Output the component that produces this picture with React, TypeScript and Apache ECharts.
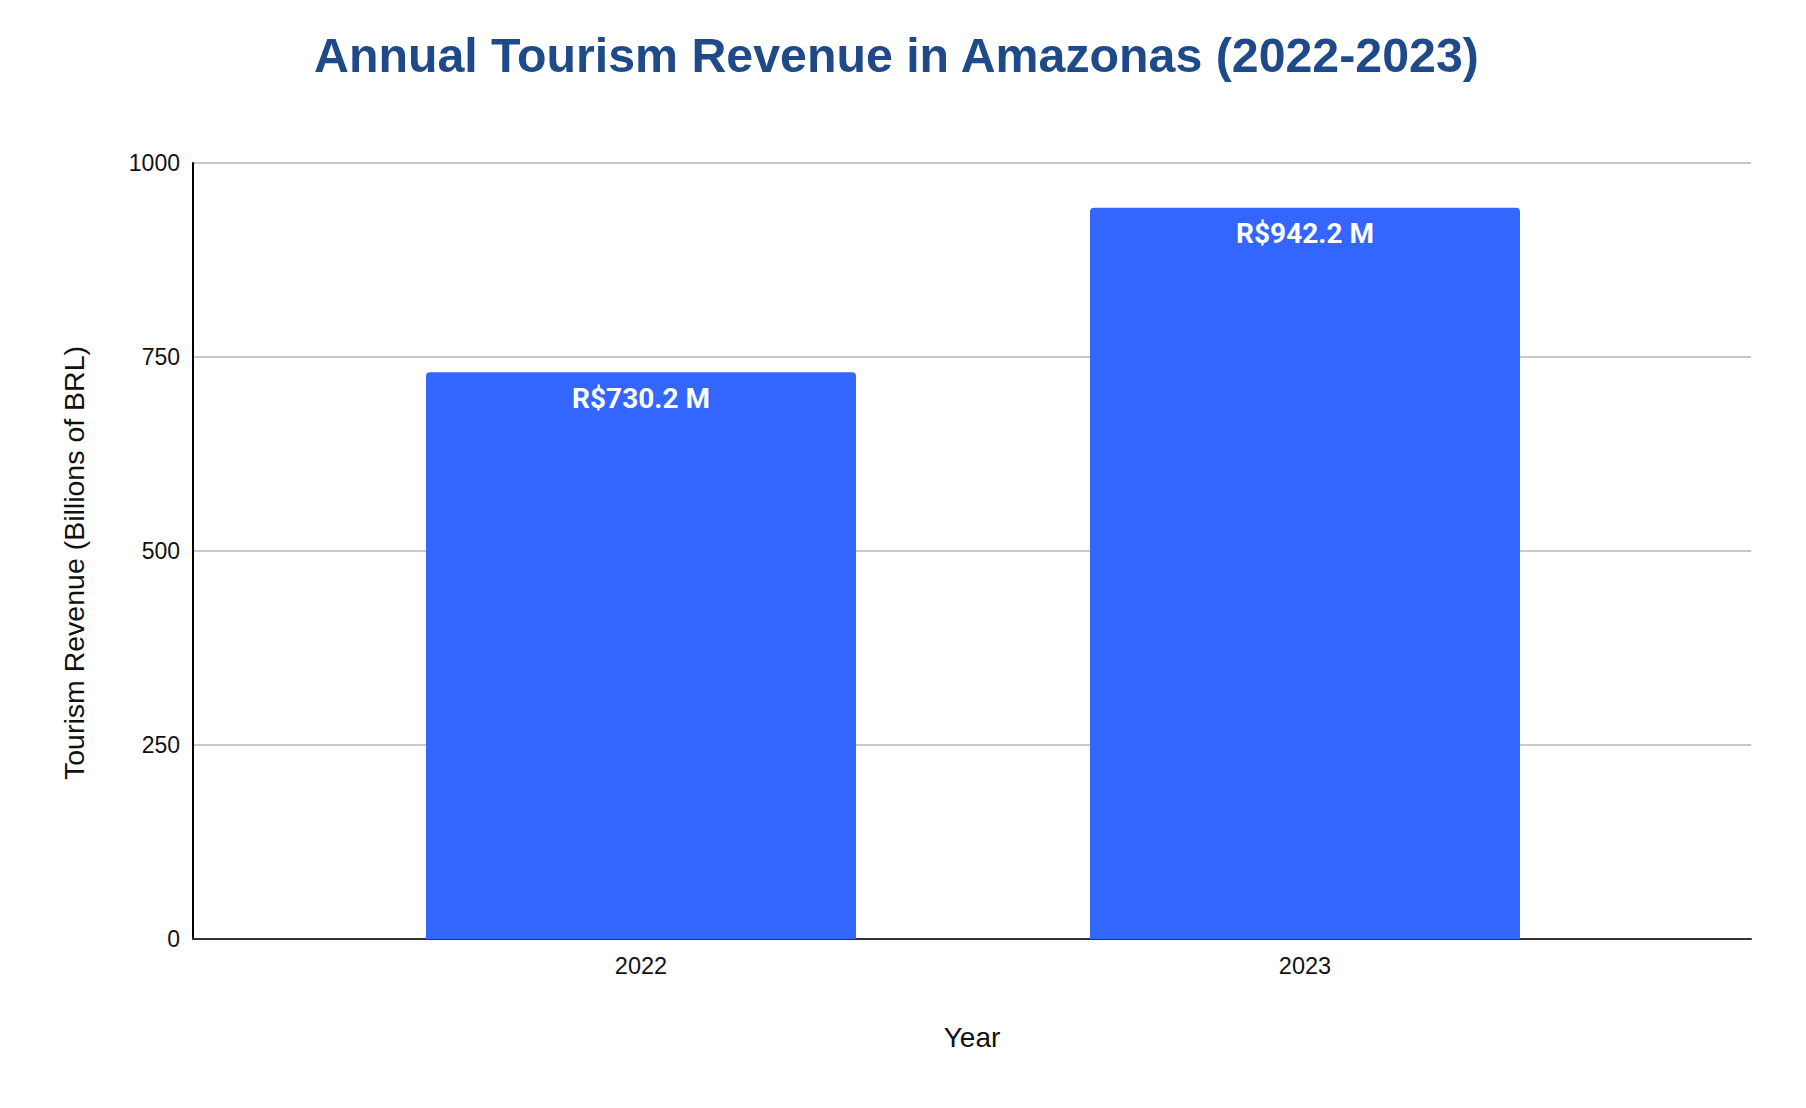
import { useEffect, useRef } from "react";
import * as echarts from "echarts";

const years = ["2022", "2023"];
const revenue = [730.2, 942.2];
const yTicks = { min: 0, max: 1000, interval: 250 };

export default function App() {
  const chartRef = useRef<HTMLDivElement>(null);

  useEffect(() => {
    document.body.style.margin = "0";
    const chart = echarts.init(chartRef.current, null, { renderer: "svg" });

    const options = {
      animation: false,
      backgroundColor: "#ffffff",
      textStyle: { fontFamily: "'Liberation Sans', Arial, sans-serif" },
      title: {
        text: "Annual Tourism Revenue in Amazonas (2022-2023)",
        left: 309,
        top: 26,
        textStyle: {
          fontSize: 48.3,
          fontWeight: "bold",
          color: "#1f4a8a",
          fontFamily: "'Liberation Sans', Arial, sans-serif",
        },
      },
      grid: [
        { left: 193, right: 55, top: 163, bottom: 169 },
        { left: 309, right: 169, top: 163, bottom: 169 },
      ],
      graphic: [
        {
          type: "text",
          x: 74,
          y: 563,
          rotation: Math.PI / 2,
          style: {
            text: "Tourism Revenue (Billions of BRL)",
            fontSize: 28.5,
            fontFamily: "'Liberation Sans', Arial, sans-serif",
            fill: "#111",
            textAlign: "center",
            textVerticalAlign: "middle",
          },
        },
      ],
      xAxis: [
        {
          gridIndex: 0,
          type: "category",
          data: [""],
          name: "Year",
          nameLocation: "middle",
          nameGap: 84,
          nameTextStyle: { fontSize: 28, color: "#111" },
          axisLine: { show: true, lineStyle: { color: "#333", width: 2 } },
          axisTick: { show: false },
          axisLabel: { show: false },
          splitLine: { show: false },
        },
        {
          gridIndex: 1,
          type: "category",
          data: years,
          axisLine: { show: false },
          axisTick: { show: false },
          axisLabel: { fontSize: 23.5, color: "#111", margin: 15 },
          splitLine: { show: false },
        },
      ],
      yAxis: [
        {
          gridIndex: 0,
          type: "value",
          ...yTicks,
          axisLine: { show: true, lineStyle: { color: "#000", width: 2 } },
          axisTick: { show: false },
          axisLabel: {
            fontSize: 23,
            color: "#111",
            margin: 13,
            formatter: (v: number) => String(v),
          },
          splitLine: { show: true, lineStyle: { color: "#c8c8c8", width: 2 } },
        },
        {
          gridIndex: 1,
          type: "value",
          ...yTicks,
          show: false,
        },
      ],
      series: [
        {
          type: "bar",
          xAxisIndex: 1,
          yAxisIndex: 1,
          data: revenue,
          barWidth: 430,
          itemStyle: { color: "#3366ff", borderRadius: [4, 4, 0, 0] },
          label: {
            show: true,
            position: "insideTop",
            distance: 12,
            formatter: (p: any) => `R$${p.value} M`,
            color: "#ffffff",
            fontSize: 28,
            fontWeight: "bold",
            fontFamily: "Roboto, sans-serif",
          },
        },
      ],
    };

    chart.setOption(options);

    return () => {
      chart.dispose();
    };
  }, []);

  return <div ref={chartRef} style={{ width: "1806px", height: "1108px" }} />;
}
